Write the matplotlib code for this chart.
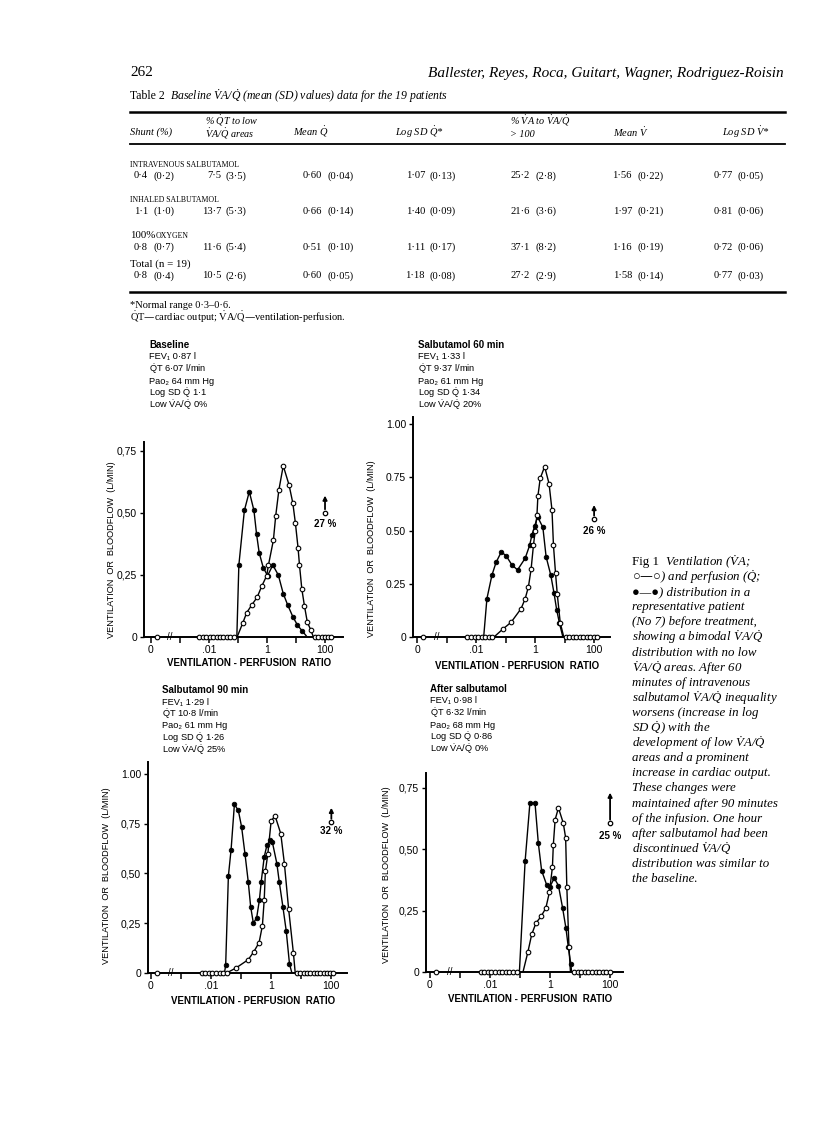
import numpy as np
import matplotlib
matplotlib.use("Agg")
import matplotlib.pyplot as plt
from matplotlib.lines import Line2D

DV = r"$\mathregular{\dot{V}}$"
DQ = r"$\mathregular{\dot{Q}}$"

# ---------------- data ----------------
table_columns = [["Shunt (%)"], ["% " + DQ + "T to low", DV + "A/" + DQ + " areas"], ["Mean " + DQ],
                 ["Log SD " + DQ + "*"], ["% " + DV + "A to " + DV + "A/" + DQ, "> 100"],
                 ["Mean " + DV], ["Log SD " + DV + "*"]]
table_groups = ["INTRAVENOUS SALBUTAMOL", "INHALED SALBUTAMOL", "100% OXYGEN", "Total (n = 19)"]
table_means = [["0\u00b74", "7\u00b75", "0\u00b760", "1\u00b707", "25\u00b72", "1\u00b756", "0\u00b777"],
               ["1\u00b71", "13\u00b77", "0\u00b766", "1\u00b740", "21\u00b76", "1\u00b797", "0\u00b781"],
               ["0\u00b78", "11\u00b76", "0\u00b751", "1\u00b711", "37\u00b71", "1\u00b716", "0\u00b772"],
               ["0\u00b78", "10\u00b75", "0\u00b760", "1\u00b718", "27\u00b72", "1\u00b758", "0\u00b777"]]
table_sds = [["(0\u00b72)", "(3\u00b75)", "(0\u00b704)", "(0\u00b713)", "(2\u00b78)", "(0\u00b722)", "(0\u00b705)"],
             ["(1\u00b70)", "(5\u00b73)", "(0\u00b714)", "(0\u00b709)", "(3\u00b76)", "(0\u00b721)", "(0\u00b706)"],
             ["(0\u00b77)", "(5\u00b74)", "(0\u00b710)", "(0\u00b717)", "(8\u00b72)", "(0\u00b719)", "(0\u00b706)"],
             ["(0\u00b74)", "(2\u00b76)", "(0\u00b705)", "(0\u00b708)", "(2\u00b79)", "(0\u00b714)", "(0\u00b703)"]]

panel_titles = ["Baseline", "Salbutamol 60 min", "Salbutamol 90 min", "After salbutamol"]
panel_info = [["FEV\u2081 0\u00b787 l", DQ + "T 6\u00b707 l/min", "Pao\u2082 64 mm Hg", "Log SD " + DQ + " 1\u00b71", "Low " + DV + "A/" + DQ + " 0%"],
              ["FEV\u2081 1\u00b733 l", DQ + "T 9\u00b737 l/min", "Pao\u2082 61 mm Hg", "Log SD " + DQ + " 1\u00b734", "Low " + DV + "A/" + DQ + " 20%"],
              ["FEV\u2081 1\u00b729 l", DQ + "T 10\u00b78 l/min", "Pao\u2082 61 mm Hg", "Log SD " + DQ + " 1\u00b726", "Low " + DV + "A/" + DQ + " 25%"],
              ["FEV\u2081 0\u00b798 l", DQ + "T 6\u00b732 l/min", "Pao\u2082 68 mm Hg", "Log SD " + DQ + " 0\u00b786", "Low " + DV + "A/" + DQ + " 0%"]]
dead_space = [27, 26, 32, 25]

# log10(VA/Q) positions and flows (l/min)
q_logx = [
    [-1.04, -0.97, -0.78, -0.61, -0.45, -0.36, -0.27, -0.13, 0.02, 0.20, 0.39, 0.56, 0.71, 0.89, 1.05, 1.21, 1.35],
    [-1.75, -1.64, -1.47, -1.33, -1.15, -0.98, -0.79, -0.60, -0.34, -0.19, -0.11, -0.02, 0.08, 0.26, 0.37, 0.53, 0.64, 0.73, 0.82, 0.94],
    [-1.55, -1.51, -1.42, -1.33, -1.22, -1.09, -0.98, -0.87, -0.76, -0.68, -0.59, -0.48, -0.39, -0.33, -0.23, -0.14, -0.03, 0.04, 0.19, 0.27, 0.39, 0.50, 0.61, 0.69],
    [-1.02, -0.83, -0.67, -0.50, -0.39, -0.28, -0.11, 0.00, 0.14, 0.28, 0.42, 0.53, 0.61, 0.69, 0.72],
]
q_flow = [
    [0.0, 0.29, 0.51, 0.586, 0.51, 0.415, 0.34, 0.28, 0.247, 0.29, 0.25, 0.175, 0.13, 0.082, 0.048, 0.025, 0.005],
    [0.0, 0.18, 0.29, 0.35, 0.40, 0.38, 0.338, 0.315, 0.37, 0.43, 0.48, 0.52, 0.565, 0.515, 0.377, 0.29, 0.205, 0.127, 0.067, 0.0],
    [0.0, 0.04, 0.487, 0.62, 0.847, 0.817, 0.733, 0.60, 0.458, 0.333, 0.25, 0.278, 0.367, 0.458, 0.583, 0.642, 0.667, 0.658, 0.55, 0.458, 0.333, 0.213, 0.045, 0.0],
    [0.0, 0.45, 0.688, 0.688, 0.525, 0.413, 0.354, 0.348, 0.382, 0.352, 0.26, 0.178, 0.10, 0.033, 0.0],
]
v_logx = [
    [-1.03, -0.84, -0.70, -0.52, -0.34, -0.18, -0.01, 0.05, 0.22, 0.30, 0.41, 0.56, 0.76, 0.89, 0.98, 1.07, 1.12, 1.20, 1.29, 1.39, 1.51, 1.60],
    [-1.40, -1.10, -0.82, -0.48, -0.34, -0.23, -0.14, -0.06, 0.00, 0.06, 0.09, 0.17, 0.32, 0.47, 0.57, 0.62, 0.69, 0.75, 0.85, 0.97],
    [-1.48, -1.17, -0.76, -0.57, -0.40, -0.29, -0.23, -0.19, -0.11, 0.00, 0.13, 0.32, 0.44, 0.58, 0.74, 0.80],
    [-0.90, -0.74, -0.61, -0.47, -0.30, -0.14, -0.02, 0.08, 0.11, 0.17, 0.28, 0.44, 0.52, 0.56, 0.63, 0.68],
]
v_flow = [
    [0.0, 0.055, 0.098, 0.13, 0.16, 0.205, 0.247, 0.29, 0.39, 0.488, 0.593, 0.69, 0.613, 0.54, 0.458, 0.36, 0.29, 0.194, 0.126, 0.06, 0.028, 0.0],
    [0.0, 0.037, 0.069, 0.133, 0.18, 0.236, 0.318, 0.43, 0.50, 0.573, 0.66, 0.745, 0.80, 0.72, 0.596, 0.43, 0.30, 0.20, 0.067, 0.0],
    [0.0, 0.025, 0.067, 0.108, 0.153, 0.238, 0.367, 0.512, 0.598, 0.763, 0.79, 0.70, 0.55, 0.323, 0.10, 0.0],
    [0.0, 0.08, 0.153, 0.199, 0.226, 0.26, 0.325, 0.427, 0.518, 0.62, 0.668, 0.607, 0.546, 0.344, 0.103, 0.0],
]
zero_left_logx = [
    [-2.34, -2.22, -2.10, -1.98, -1.86, -1.74, -1.62, -1.50, -1.38, -1.26, -1.14],
    [-2.30, -2.18, -2.06, -1.94, -1.82, -1.70, -1.58, -1.47],
    [-2.31, -2.19, -2.07, -1.95, -1.83, -1.71, -1.59, -1.48],
    [-2.31, -2.19, -2.07, -1.95, -1.83, -1.71, -1.59, -1.47, -1.35, -1.23, -1.11],
]
zero_right_logx = [
    [1.66, 1.77, 1.88, 1.99, 2.10, 2.21],
    [1.03, 1.15, 1.27, 1.39, 1.51, 1.63, 1.75, 1.87, 1.99, 2.09],
    [0.86, 0.97, 1.08, 1.19, 1.30, 1.41, 1.52, 1.63, 1.74, 1.85, 1.96, 2.07],
    [0.80, 0.92, 1.04, 1.16, 1.28, 1.40, 1.52, 1.64, 1.76, 1.88, 2.00],
]
shunt_logx = -3.8

# ---------------- layout ----------------
W, H = 816, 1121
fig = plt.figure(figsize=(W / 100, H / 100), dpi=100)
SERIF = ["Liberation Serif", "DejaVu Serif"]
SANS = ["Liberation Sans", "DejaVu Sans"]


def fx(x):
    return x / W


def fy(y):
    return 1 - y / H


def ftext(x, y, s, **kw):
    kw.setdefault("va", "center")
    kw.setdefault("family", SERIF)
    fig.text(fx(x), fy(y), s, **kw)


def hline(x0, x1, y, lw):
    fig.add_artist(Line2D([fx(x0), fx(x1)], [fy(y), fy(y)], color="black", lw=lw,
                          transform=fig.transFigure))


# header
ftext(130, 73, "262", fontsize=11)
ftext(784, 73, "Ballester, Reyes, Roca, Guitart, Wagner, Rodriguez-Roisin", fontsize=11,
      style="italic", ha="right")
ftext(130, 96, "Table 2", fontsize=8.5)
ftext(170, 96, "Baseline " + DV + "A/" + DQ + " (mean (SD) values) data for the 19 patients",
      fontsize=8.5, style="italic")

# table
hline(130, 785, 112, 1.8)
hline(130, 785, 144, 1.3)
hline(130, 785, 292, 1.8)
head_x = [130, 205, 293, 395, 510, 613, 722]
for hx, labs in zip(head_x, table_columns):
    if len(labs) == 1:
        ftext(hx, 132, labs[0], fontsize=7.5, style="italic")
    else:
        ftext(hx, 121, labs[0], fontsize=7.3, style="italic")
        ftext(hx, 134, labs[1], fontsize=7.3, style="italic")
mean_right = [148, 221, 322, 425, 530, 632, 733]
sd_left = [153, 226, 327, 430, 536, 637, 738]
group_y = [164, 199, 235, 264]
for gi, grp in enumerate(table_groups):
    if gi == 3:
        ftext(130, group_y[gi], grp, fontsize=7.8)
    elif gi == 2:
        ftext(130, group_y[gi], "100%", fontsize=7.8)
        ftext(156, group_y[gi] + 1, "OXYGEN", fontsize=5.6)
    else:
        ftext(130, group_y[gi] + 1, grp, fontsize=5.6)
    for ci in range(7):
        ftext(mean_right[ci], group_y[gi] + 12, table_means[gi][ci], fontsize=7.6, ha="right")
        ftext(sd_left[ci], group_y[gi] + 12, table_sds[gi][ci], fontsize=7.6)
ftext(130, 305, "*Normal range 0\u00b73\u20130\u00b76.", fontsize=7.5)
ftext(130, 317, DQ + "T\u2014cardiac output; " + DV + "A/" + DQ + "\u2014ventilation-perfusion.", fontsize=7.5)

# panels: left, right, top, bottom (px), xlim (log10), ylim top
panels = [
    dict(l=144, r=343, t=442, b=637, xl=(-4.24, 2.62), yt=0.786,
         yticks=[0, 0.25, 0.5, 0.75], ylabs=["0", "0,25", "0,50", "0,75"],
         tx=149, ty=345, arrow=(0.57, 0.50, 0.455), lab=(-0.14, 0.45)),
    dict(l=413, r=610, t=417, b=637, xl=(-4.15, 2.54), yt=1.033,
         yticks=[0, 0.25, 0.5, 0.75, 1.0], ylabs=["0", "0.25", "0.50", "0.75", "1.00"],
         tx=418, ty=345, arrow=(0.62, 0.555, 0.50), lab=(-0.19, 0.40)),
    dict(l=148, r=347, t=762, b=973, xl=(-4.09, 2.52), yt=1.06,
         yticks=[0, 0.25, 0.5, 0.75, 1.0], ylabs=["0", "0,25", "0,50", "0,75", "1.00"],
         tx=162, ty=690, arrow=(0.83, 0.76, 0.715), lab=(-0.185, 0.46)),
    dict(l=426, r=623, t=773, b=972, xl=(-4.13, 2.43), yt=0.81,
         yticks=[0, 0.25, 0.5, 0.75], ylabs=["0", "0,25", "0,50", "0,75"],
         tx=430, ty=689, arrow=(0.73, 0.605, 0.555), lab=(-0.18, 0.49)),
]

ms = 3.3
for i, p in enumerate(panels):
    ax = fig.add_axes([fx(p["l"]), fy(p["b"]), (p["r"] - p["l"]) / W, (p["b"] - p["t"]) / H])
    ax.set_xscale("log")
    ax.set_xlim(10 ** p["xl"][0], 10 ** p["xl"][1])
    ax.set_ylim(0, p["yt"])
    for s in ["top", "right"]:
        ax.spines[s].set_visible(False)
    for s in ["left", "bottom"]:
        ax.spines[s].set_linewidth(1.4)
    ax.set_xticks([1e-4, 1e-3, 1e-2, 1e-1, 1, 10, 100])
    ax.set_xticklabels(["0", "", ".01", "", "1", "", "100"])
    ax.xaxis.set_minor_locator(matplotlib.ticker.NullLocator())
    ax.set_yticks(p["yticks"])
    ax.set_yticklabels(p["ylabs"])
    ax.tick_params(axis="x", direction="out", length=4, width=1.1, pad=1.5, labelsize=7.5)
    ax.tick_params(axis="y", direction="out", length=3, width=1.0, pad=2, labelsize=7.5)
    for lab in ax.get_xticklabels() + ax.get_yticklabels():
        lab.set_family(SANS)
    ax.set_ylabel("VENTILATION  OR  BLOODFLOW  (L/MIN)", fontsize=6.6, family=SANS)
    ax.yaxis.set_label_coords(*p["lab"])
    ax.set_xlabel("VENTILATION - PERFUSION  RATIO", fontsize=7, family=SANS, fontweight="bold")
    ax.xaxis.set_label_coords(0.53, -0.11)

    # curves
    qx = 10.0 ** np.array(q_logx[i])
    vx = 10.0 ** np.array(v_logx[i])
    qy = np.array(q_flow[i])
    vy = np.array(v_flow[i])
    ax.plot(vx, vy, "-", color="black", lw=1.0, zorder=3)
    ax.plot(qx, qy, "-", color="black", lw=1.0, zorder=3)
    ax.plot(qx[1:-1], qy[1:-1], "o", ms=ms, mfc="black", mec="black", mew=0.6, zorder=4, clip_on=False)
    ax.plot(vx[1:-1], vy[1:-1], "o", ms=ms, mfc="white", mec="black", mew=0.8, zorder=5, clip_on=False)
    zx = 10.0 ** np.array(zero_left_logx[i] + zero_right_logx[i] + [shunt_logx])
    ax.plot(zx, np.zeros_like(zx), "o", ms=ms, mfc="white", mec="black", mew=0.8, zorder=5, clip_on=False)
    ax.text(10 ** -3.35, 0, "//", fontsize=7, family=SANS, ha="center", va="center", zorder=6)

    # dead space arrow
    at, ac, atx = p["arrow"]
    ax.annotate("", xy=(100, at), xytext=(100, ac + 0.015),
                arrowprops=dict(arrowstyle="-|>", lw=1.3, color="black", mutation_scale=6,
                                shrinkA=0, shrinkB=0))
    ax.plot([100], [ac], "o", ms=3.2, mfc="white", mec="black", mew=0.9, clip_on=False)
    ax.text(100, atx, f"{dead_space[i]} %", fontsize=7, family=SANS, fontweight="bold",
            ha="center", va="center")

    # info block
    ftext(p["tx"], p["ty"], panel_titles[i], fontsize=7, family=SANS, fontweight="bold")
    for k, line in enumerate(panel_info[i]):
        ftext(p["tx"], p["ty"] + 12 * (k + 1), line, fontsize=6.7, family=SANS)

# caption
cap_lines = [
    "Ventilation (" + DV + "A;",
    "\u25cb\u2014\u25cb) and perfusion (" + DQ + ";",
    "\u25cf\u2014\u25cf) distribution in a",
    "representative patient",
    "(No 7) before treatment,",
    "showing a bimodal " + DV + "A/" + DQ,
    "distribution with no low",
    DV + "A/" + DQ + " areas. After 60",
    "minutes of intravenous",
    "salbutamol " + DV + "A/" + DQ + " inequality",
    "worsens (increase in log",
    "SD " + DQ + ") with the",
    "development of low " + DV + "A/" + DQ,
    "areas and a prominent",
    "increase in cardiac output.",
    "These changes were",
    "maintained after 90 minutes",
    "of the infusion. One hour",
    "after salbutamol had been",
    "discontinued " + DV + "A/" + DQ,
    "distribution was similar to",
    "the baseline.",
]
ftext(632, 562, "Fig 1", fontsize=9.4)
for k, line in enumerate(cap_lines):
    x = 665 if k == 0 else 632
    ftext(x, 562 + 15.1 * k, line, fontsize=9.3, style="italic")

fig.savefig("out.png", dpi=100)
